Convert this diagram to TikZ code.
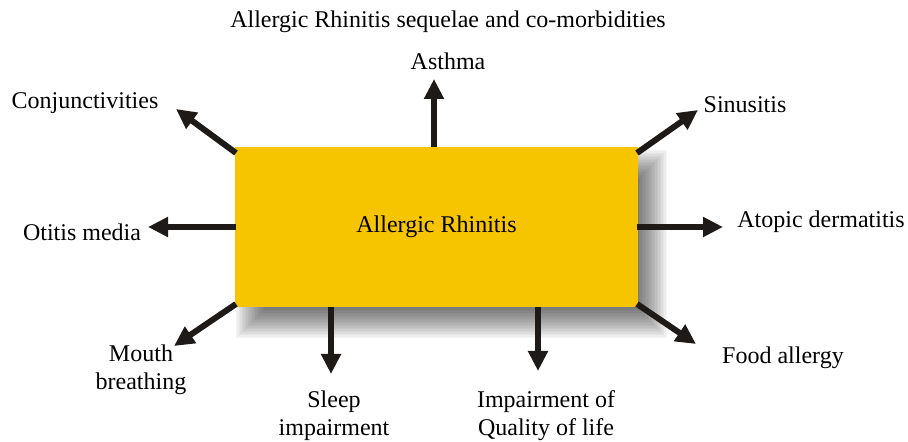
\documentclass[tikz,border=0pt]{standalone}
\usepackage{fontspec}
\setmainfont{Liberation Serif}
\usetikzlibrary{arrows.meta}
\definecolor{boxyellow}{RGB}{247,196,0}
\definecolor{arrowdark}{RGB}{30,26,23}
\tikzset{
  lbl/.style={font=\fontsize{12}{14}\selectfont, align=center, inner sep=0pt},
  bigarrow/.style={draw=arrowdark, line width=3pt, -{Triangle[width=9.5pt,length=10pt]}},
  mainbox/.style={draw=none, fill=boxyellow, sharp corners, minimum width=201.5pt, minimum height=80pt,
    font=\fontsize{12}{14}\selectfont},
  shadowlayer/.style={fill=black, fill opacity=0.034, draw=none}
}
\begin{document}
\begin{tikzpicture}[x=0.5pt,y=-0.5pt]
\useasboundingbox (0,0) rectangle (908,442);
% soft shadow
\foreach \i in {0,...,19}{
  \pgfmathsetmacro\e{15-30*(\i+0.5)/20}
  \fill[shadowlayer] ({250-\e},{164-\e}) rectangle ({653+\e},{324+\e});
}
\node[mainbox] (ar) at (436.5,227) {Allergic Rhinitis};
% anchors on box
\coordinate (sA) at (434,147);
\coordinate (sC) at (236,153);
\coordinate (sS) at (637,153);
\coordinate (sO) at (236,227);
\coordinate (sD) at (637,227);
\coordinate (sM) at (236,304);
\coordinate (sSl) at (331,307);
\coordinate (sQ) at (538,307);
\coordinate (sF) at (637,304);
% arrow tips
\coordinate (tA) at (434,79);
\coordinate (tC) at (176,109);
\coordinate (tS) at (698,110);
\coordinate (tO) at (148,227);
\coordinate (tD) at (723,227);
\coordinate (tM) at (174,346);
\coordinate (tSl) at (331,374);
\coordinate (tQ) at (538,371);
\coordinate (tF) at (696,344);
\foreach \s/\t in {sA/tA,sC/tC,sS/tS,sO/tO,sD/tD,sM/tM,sSl/tSl,sQ/tQ,sF/tF}
  \draw[bigarrow] (\s) -- (\t);
% labels
\node[lbl] (title) at (448,22) {Allergic Rhinitis sequelae and co-morbidities};
\node[lbl] (asthma) at (448,61) {Asthma};
\node[lbl] (conj) at (85,103) {Conjunctivities};
\node[lbl] (sinus) at (745,105) {Sinusitis};
\node[lbl] (otitis) at (82,232) {Otitis media};
\node[lbl] (atopic) at (821,222) {Atopic dermatitis};
\node[lbl] (mouth) at (141,370) {Mouth\\breathing};
\node[lbl] (sleep) at (334,416) {Sleep\\impairment};
\node[lbl] (qol) at (546,416) {Impairment of\\Quality of life};
\node[lbl] (food) at (783,358) {Food allergy};
\end{tikzpicture}
\end{document}
